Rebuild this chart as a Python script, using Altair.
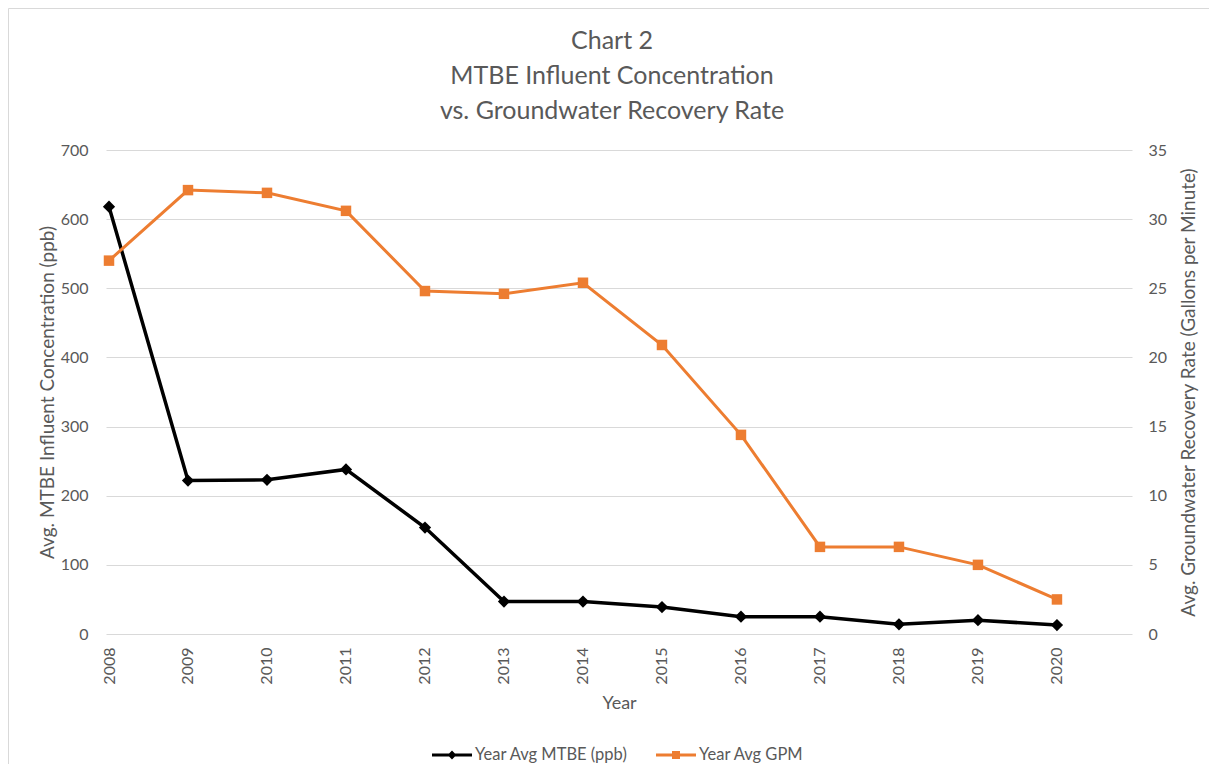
import altair as alt
import pandas as pd

years = [2008, 2009, 2010, 2011, 2012, 2013, 2014, 2015, 2016, 2017, 2018, 2019, 2020]
mtbe = [618, 222, 223, 238, 154, 47, 47, 39, 25, 25, 14, 20, 13]
gpm = [27.0, 32.1, 31.9, 30.6, 24.8, 24.6, 25.4, 20.9, 14.4, 6.3, 6.3, 5.0, 2.5]
series_names = ["Year Avg MTBE (ppb)", "Year Avg GPM"]
series_colors = ["#000000", "#ED7D31"]
left_ticks = [0, 100, 200, 300, 400, 500, 600, 700]
right_ticks = [0, 5, 10, 15, 20, 25, 30, 35]
title_lines = ["Chart 2", "MTBE Influent Concentration", "vs. Groundwater Recovery Rate"]

df = pd.DataFrame({"Year": years, "MTBE": mtbe, "GPM": gpm})

FONT = "Lato"
TXT = "#595959"
GRID = "#d9d9d9"
W, H = 1026, 484

x = alt.X(
    "Year:Q",
    scale=alt.Scale(domain=[2007.962, 2020.95], nice=False, zero=False),
    axis=alt.Axis(
        values=years, format="d", labelAngle=270, labelPadding=13, ticks=False,
        domain=False, grid=False, labelFont=FONT, labelFontSize=16, labelColor=TXT,
        title="Year", titleFont=FONT, titleFontSize=18, titleColor=TXT,
        titleFontWeight="normal", titleY=69, titleBaseline="middle",
    ),
)

yl = alt.Y(
    "MTBE:Q",
    scale=alt.Scale(domain=[0, 700], nice=False),
    axis=alt.Axis(
        values=left_ticks, grid=True, gridColor=GRID, gridWidth=1, ticks=False,
        domain=False, labelPadding=18, labelFont=FONT, labelFontSize=16, labelColor=TXT,
        title="Avg. MTBE Influent Concentration (ppb)", titleFont=FONT,
        titleFontSize=19, titleColor=TXT, titleFontWeight="normal",
        titleX=-59, titleY=H / 2, titleAngle=270, titleBaseline="middle",
        titleAlign="center",
    ),
)

yr = alt.Y(
    "GPM:Q",
    scale=alt.Scale(domain=[0, 35], nice=False),
    axis=alt.Axis(
        orient="right", values=right_ticks, grid=False, ticks=False, domain=False,
        labelPadding=16, labelFont=FONT, labelFontSize=16, labelColor=TXT,
        title="Avg. Groundwater Recovery Rate (Gallons per Minute)", titleFont=FONT,
        titleFontSize=19, titleColor=TXT, titleFontWeight="normal",
        titleX=56, titleY=H / 2, titleAngle=270, titleBaseline="middle",
        titleAlign="center",
    ),
)

diamond_sym = "M-1,-0.08H1V0.08H-1Z M0,-0.22L0.22,0L0,0.22L-0.22,0Z"
square_sym = "M-1,-0.08H1V0.08H-1Z M-0.2,-0.2H0.2V0.2H-0.2Z"


def legend(sym, lx):
    return alt.Legend(
        title=None, orient="none", legendX=lx, legendY=585, symbolType=sym,
        symbolSize=1600, symbolStrokeWidth=0, labelFont=FONT, labelFontSize=16.5,
        labelColor=TXT, labelOffset=3, padding=0,
    )


base = alt.Chart(df)

mt_line = base.mark_line(color=series_colors[0], strokeWidth=3.5).encode(x=x, y=yl)
mt_pts = base.transform_calculate(series=f'"{series_names[0]}"').mark_point(
    shape="diamond", filled=True, size=150, opacity=1
).encode(
    x=x, y=yl,
    color=alt.Color("series:N",
                    scale=alt.Scale(domain=[series_names[0]], range=[series_colors[0]]),
                    legend=legend(diamond_sym, 326)),
)

gp_line = base.mark_line(color=series_colors[1], strokeWidth=3).encode(x=x, y=yr)
gp_pts = base.transform_calculate(series=f'"{series_names[1]}"').mark_point(
    shape="square", filled=True, size=110, opacity=1
).encode(
    x=x, y=yr,
    color=alt.Color("series:N",
                    scale=alt.Scale(domain=[series_names[1]], range=[series_colors[1]]),
                    legend=legend(square_sym, 550)),
)

border = alt.Chart(alt.Data(values=[{"b": 1}])).mark_rect(
    fillOpacity=0, stroke=GRID, strokeWidth=1
).encode(
    x=alt.value(-97.5), x2=alt.value(1400), y=alt.value(-141.5), y2=alt.value(900)
)

chart = alt.layer(
    border,
    alt.layer(mt_line, mt_pts),
    alt.layer(gp_line, gp_pts),
).resolve_scale(y="independent", color="independent").properties(
    width=W, height=H,
    padding={"left": 98, "top": 142, "right": 77, "bottom": 130},
    autosize=alt.AutoSizeParams(type="none"),
    title=alt.TitleParams(
        text=title_lines, font=FONT, fontSize=25, fontWeight="normal", color=TXT,
        lineHeight=35, anchor="middle", frame="group", dx=-7, baseline="bottom",
        offset=-141,
    ),
).configure_view(strokeWidth=0)

chart.save("out.html", embed_options={"renderer": "svg", "actions": False})
